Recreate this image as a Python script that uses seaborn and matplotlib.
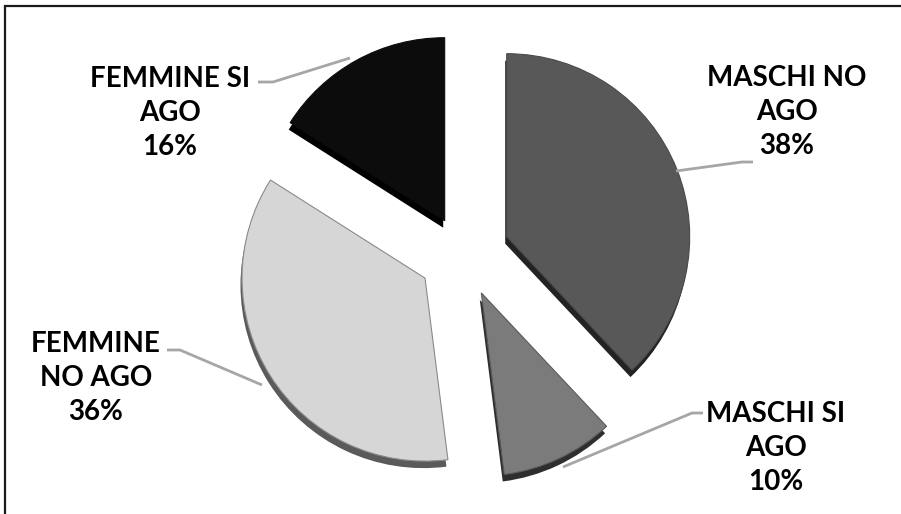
import matplotlib
matplotlib.use("Agg")
import matplotlib.pyplot as plt
import seaborn as sns
from matplotlib.patches import Rectangle

# ---- data ----
categories = ["MASCHI NO AGO", "MASCHI SI AGO", "FEMMINE NO AGO", "FEMMINE SI AGO"]
label_text = ["MASCHI NO\nAGO", "MASCHI SI\nAGO", "FEMMINE\nNO AGO", "FEMMINE SI\nAGO"]
percent = [38, 10, 36, 16]

# ---- style ----
face_colors = ["#585858", "#7b7b7b", "#d6d6d6", "#0c0c0c"]
edge_colors = ["#4a4a4a", "#5a5a5a", "#8a8a8a", "#0c0c0c"]
side_colors = ["#232323", "#2e2e2e", "#5a5a5a", "#000000"]
explode_px = [47, 43, 45, 38]   # offset of each slice (pixels)

W, H = 901, 514
sns.set_theme(style="white")
plt.rcParams['font.family'] = ['Lato', 'DejaVu Sans']

fig = plt.figure(figsize=(W / 100, H / 100), dpi=100)
ax = fig.add_axes([0, 0, 1, 1])


def Y(y):
    return H - y


cx, cy, r = 463, Y(254), 183
depth = 7

# side (3D depth) of each slice
ax.pie(percent, explode=explode_px, colors=side_colors, startangle=90,
       counterclock=False, radius=r, center=(cx - 1.5, cy - depth),
       wedgeprops=dict(linewidth=0))
# top face
wedges, _ = ax.pie(percent, explode=explode_px, colors=face_colors, startangle=90,
                   counterclock=False, radius=r, center=(cx, cy),
                   wedgeprops=dict(linewidth=0.8))
for w, ec in zip(wedges, edge_colors):
    w.set_edgecolor(ec)

# labels
label_pos = [(787, 112), (776, 448), (96, 378), (170, 113)]
for (lx, ly), txt, p in zip(label_pos, label_text, percent):
    ax.text(lx, Y(ly), f"{txt}\n{p}%", ha="center", va="center",
            fontsize=20, fontweight="bold", linespacing=1.37,
            multialignment="center", color="#000000")

# leader lines
leaders = [
    [(676, 171), (742, 162), (753, 162)],
    [(563, 467), (692, 413), (703, 413)],
    [(262, 385), (180, 350), (167, 350)],
    [(350, 58), (273, 82), (258, 82)],
]
for pts in leaders:
    ax.plot([p[0] for p in pts], [Y(p[1]) for p in pts], color="#a6a6a6",
            lw=2.0, solid_capstyle="butt", zorder=3)

# chart border
ax.add_patch(Rectangle((5, Y(530)), 920, 524, fill=False, edgecolor="#1a1a1a",
                       lw=1.6, zorder=5))

ax.set_xlim(0, W)
ax.set_ylim(0, H)
ax.set_aspect("auto")
ax.axis("off")

fig.savefig("out.png", dpi=100, facecolor="white")
